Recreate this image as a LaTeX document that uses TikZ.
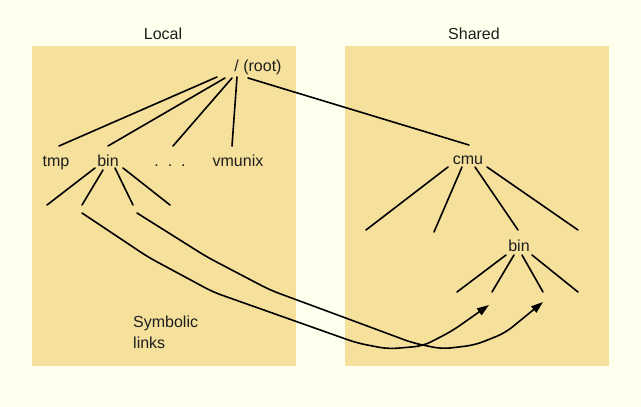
\documentclass[tikz,border=0pt]{standalone}
\usepackage{fontspec}
\setmainfont{Liberation Sans}
\usetikzlibrary{arrows.meta}
\definecolor{bgc}{RGB}{255,255,238}
\definecolor{tanc}{RGB}{245,224,156}
\definecolor{ink}{RGB}{30,30,30}
\begin{document}
\begin{tikzpicture}[x=1pt,y=-1pt,
  edge/.style={line width=1.6pt, line cap=round, draw=black},
  lbl/.style={font=\fontsize{16}{19}\selectfont, text=ink, inner sep=0pt, anchor=base},
  link/.style={edge, rounded corners=9pt, -{Triangle[length=12pt,width=8pt]}}]
\fill[bgc] (0,0) rectangle (641,407);
\useasboundingbox (0,0) rectangle (641,407);
\fill[tanc] (32,46) rectangle (296,366);
\fill[tanc] (345,46) rectangle (609,366);
% titles
\node[lbl] (local) at (163,39) {Local};
\node[lbl] (shared) at (474,39) {Shared};
% labels
\node[lbl] (root) at (258,71) {/ (root)};
\node[lbl] (tmp) at (56,166) {tmp};
\node[lbl] (bin) at (108,166) {bin};
\node[lbl] (dots) at (170,166) {.\ \ .\ \ .};
\node[lbl] (vmunix) at (238,166) {vmunix};
\node[lbl] (cmu) at (468,164) {cmu};
\node[lbl] (rbin) at (519,251) {bin};
\node[lbl, anchor=base west, align=left] (sym) at (133,327) {Symbolic};
\node[lbl, anchor=base west] (links) at (133,348) {links};
% root edges
\coordinate (r1) at (217,77); \coordinate (r2) at (225,78);
\coordinate (r3) at (232,78); \coordinate (r4) at (237,77);
\coordinate (r5) at (248,78);
\coordinate (t1) at (59,146); \coordinate (t2) at (108,146);
\coordinate (t3) at (173,146); \coordinate (t4) at (232,146);
\coordinate (t5) at (469,145);
\draw[edge] (r1) -- (t1);
\draw[edge] (r2) -- (t2);
\draw[edge] (r3) -- (t3);
\draw[edge] (r4) -- (t4);
\draw[edge] (r5) -- (t5);
% local bin children
\coordinate (b1) at (95,168); \coordinate (b2) at (103,170);
\coordinate (b3) at (115,168); \coordinate (b4) at (123,168);
\coordinate (bl1) at (47,205); \coordinate (bl2) at (82,205);
\coordinate (bl3) at (133,205); \coordinate (bl4) at (170,205);
\draw[edge] (b1) -- (bl1);
\draw[edge] (b2) -- (bl2);
\draw[edge] (b3) -- (bl3);
\draw[edge] (b4) -- (bl4);
% cmu children
\coordinate (c1) at (448,167); \coordinate (c2) at (462,167);
\coordinate (c3) at (475,167); \coordinate (c4) at (487,167);
\coordinate (cl1) at (366,230); \coordinate (cl2) at (434,232);
\coordinate (cl3) at (518,230); \coordinate (cl4) at (578,230);
\draw[edge] (c1) -- (cl1);
\draw[edge] (c2) -- (cl2);
\draw[edge] (c3) -- (cl3);
\draw[edge] (c4) -- (cl4);
% right bin children
\coordinate (d1) at (506,255); \coordinate (d2) at (514,255);
\coordinate (d3) at (522,255); \coordinate (d4) at (532,255);
\coordinate (dl1) at (457,292); \coordinate (dl2) at (492,292);
\coordinate (dl3) at (543,292); \coordinate (dl4) at (578,292);
\draw[edge] (d1) -- (dl1);
\draw[edge] (d2) -- (dl2);
\draw[edge] (d3) -- (dl3);
\draw[edge] (d4) -- (dl4);
% symbolic links
\coordinate (s1) at (82,213); \coordinate (e1) at (489,305);
\coordinate (s2) at (137,213); \coordinate (e2) at (543,302);
\draw[link] (s1) -- (148,257) -- (213,292) -- (357,343) -- (388,349) -- (423,346) -- (452,331) -- (e1);
\draw[link] (s2) -- (207,257) -- (270,290) -- (343,317) -- (413,343) -- (442,349) -- (475,345) -- (505,333) -- (e2);
\end{tikzpicture}
\end{document}
